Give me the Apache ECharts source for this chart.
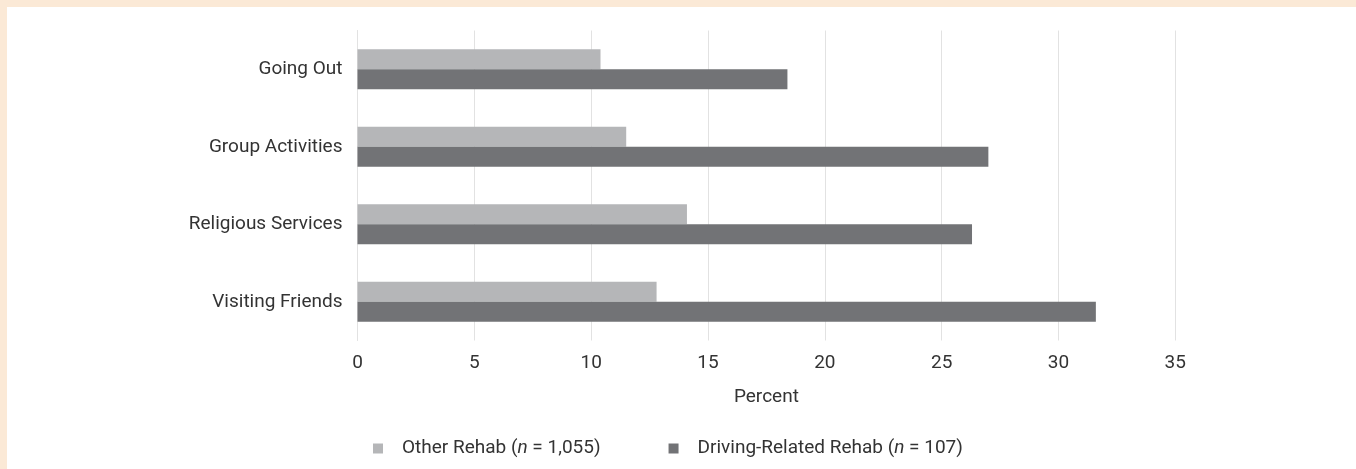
<!DOCTYPE html>
<html>
<head>
<meta charset="utf-8">
<script src="https://cdn.jsdelivr.net/npm/echarts@6/dist/echarts.min.js"></script>
<style>
html,body{margin:0;padding:0;background:#fff;}
#chart{width:1356px;height:469px;}
</style>
</head>
<body>
<div id="chart"></div>
<script>
const categories = ['Going Out', 'Group Activities', 'Religious Services', 'Visiting Friends'];
const otherRehab = [10.4, 11.5, 14.1, 12.8];
const drivingRehab = [18.4, 27.0, 26.3, 31.6];
const seriesNames = ['Other Rehab', 'Driving-Related Rehab'];
const seriesN = ['1,055', '107'];
const xTicks = [0, 35, 5];

const FONT = '"Roboto", sans-serif';
const FS = 19;
const chart = echarts.init(document.getElementById('chart'), null, {renderer: 'canvas'});
chart.setOption({
  backgroundColor: '#ffffff',
  animation: false,
  graphic: [
    {type: 'rect', shape: {x: 0, y: 0, width: 1356, height: 7}, style: {fill: '#fbe9d6'}, z: -10},
    {type: 'rect', shape: {x: 0, y: 0, width: 7, height: 469}, style: {fill: '#fbe9d6'}, z: -10}
  ],
  grid: {left: 357.5, right: 180.7, top: 30.5, bottom: 128.5, containLabel: false},
  legend: {
    top: 434,
    left: 368,
    itemWidth: 10,
    itemHeight: 10,
    itemGap: 68,
    icon: 'rect',
    data: seriesNames,
    formatter: function (name) {
      const i = seriesNames.indexOf(name);
      return name + ' ({i|n} = ' + seriesN[i] + ')';
    },
    textStyle: {
      fontFamily: FONT, fontSize: FS, color: '#333',
      padding: [0, 0, 0, 14],
      rich: {i: {fontFamily: FONT, fontSize: FS, fontStyle: 'italic', color: '#333'}}
    }
  },
  xAxis: {
    type: 'value',
    min: xTicks[0], max: xTicks[1], interval: xTicks[2],
    name: 'Percent',
    nameLocation: 'middle',
    nameGap: 47,
    nameTextStyle: {fontFamily: FONT, fontSize: FS, color: '#333'},
    axisLine: {show: false},
    axisTick: {show: false},
    axisLabel: {fontFamily: FONT, fontSize: FS, color: '#333', margin: 13},
    splitLine: {show: true, lineStyle: {color: '#e2e2e2', width: 1}}
  },
  yAxis: {
    type: 'category',
    data: categories,
    inverse: true,
    axisLine: {show: true, lineStyle: {color: '#e2e2e2', width: 1}},
    axisTick: {show: false},
    axisLabel: {fontFamily: FONT, fontSize: FS, color: '#333', margin: 15}
  },
  series: [
    {name: seriesNames[0], type: 'bar', data: otherRehab, barWidth: 20, barGap: '0%',
     itemStyle: {color: '#b5b6b8'}},
    {name: seriesNames[1], type: 'bar', data: drivingRehab, barWidth: 20, barGap: '0%',
     itemStyle: {color: '#727376'}}
  ]
});
</script>
</body>
</html>
